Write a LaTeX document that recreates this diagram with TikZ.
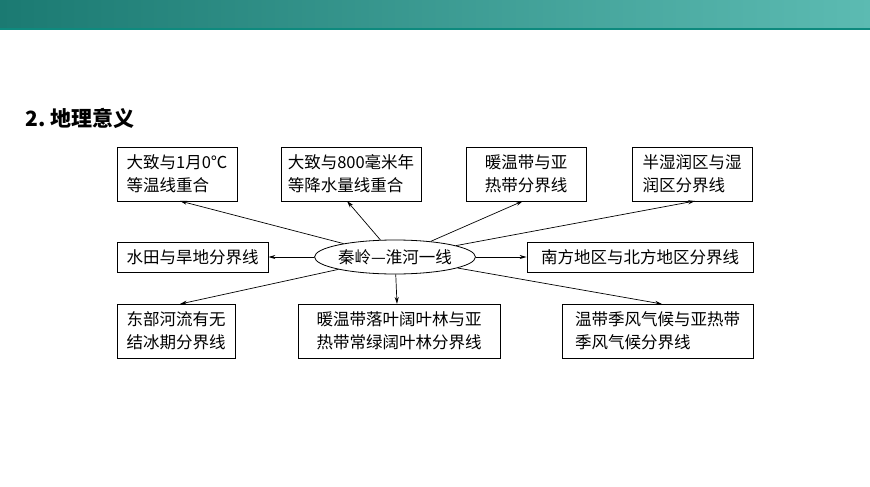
\documentclass[tikz,border=0pt]{standalone}
\usepackage{fontspec}
\setmainfont{Noto Sans CJK SC}
\usetikzlibrary{shapes.geometric,arrows.meta}
\definecolor{barL}{HTML}{1B7A72}
\definecolor{barM}{HTML}{2AADA8}
\definecolor{barR}{HTML}{5CBBB2}
\definecolor{barLine}{HTML}{0E8A7E}
\begin{document}
\begin{tikzpicture}[x=1pt,y=-1pt,
  box/.style={draw,line width=0.8pt,inner sep=0pt,align=left,font=\fontsize{16.5}{23}\selectfont},
  con/.style={line width=0.7pt,-{Stealth[length=7pt,width=4pt]}}]
\useasboundingbox (0,0) rectangle (870,487);
\shade[left color=barL, middle color=barM, right color=barR] (0,0) rectangle (870,28);
\fill[barLine] (0,28) rectangle (870,30);
\node[anchor=west,font=\bfseries\fontsize{21}{24}\selectfont] (title) at (22,118) {2.~地理意义};
\node[draw,ellipse,line width=0.8pt,minimum width=150pt,minimum height=34pt,inner sep=0pt,font=\fontsize{16.5}{18}\selectfont] (e) at (395,257) {秦岭—淮河一线};
\node[box,minimum width=120pt,minimum height=54pt] (b1) at (177,174) {大致与1月0℃\\等温线重合};
\node[box,minimum width=140pt,minimum height=54pt] (b2) at (351,174) {大致与800毫米年\\等降水量线重合};
\node[box,minimum width=120pt,minimum height=54pt] (b3) at (526,174) {暖温带与亚\\热带分界线};
\node[box,minimum width=120pt,minimum height=54pt] (b4) at (692,174) {半湿润区与湿\\润区分界线};
\node[box,minimum width=151pt,minimum height=30pt] (l) at (192.5,257) {水田与旱地分界线};
\node[box,minimum width=226pt,minimum height=30pt] (r) at (640,257) {南方地区与北方地区分界线};
\node[box,minimum width=118pt,minimum height=54pt] (c1) at (176,331) {东部河流有无\\结冰期分界线};
\node[box,minimum width=202pt,minimum height=54pt] (c2) at (399,331) {暖温带落叶阔叶林与亚\\热带常绿阔叶林分界线};
\node[box,minimum width=191pt,minimum height=54pt] (c3) at (657.5,331) {温带季风气候与亚热带\\季风气候分界线};
\coordinate (t1) at (180,201);
\coordinate (t2) at (347,201);
\coordinate (t3) at (523,201);
\coordinate (t4) at (695,201);
\coordinate (u1) at (180,304);
\coordinate (u2) at (397,304);
\coordinate (u3) at (662,304);
\draw[con] (e) -- (t1);
\draw[con] (e) -- (t2);
\draw[con] (e) -- (t3);
\draw[con] (e) -- (t4);
\draw[con] (e) -- (l);
\draw[con] (e) -- (r);
\draw[con] (e) -- (u1);
\draw[con] (e) -- (u2);
\draw[con] (e) -- (u3);
\end{tikzpicture}
\end{document}
